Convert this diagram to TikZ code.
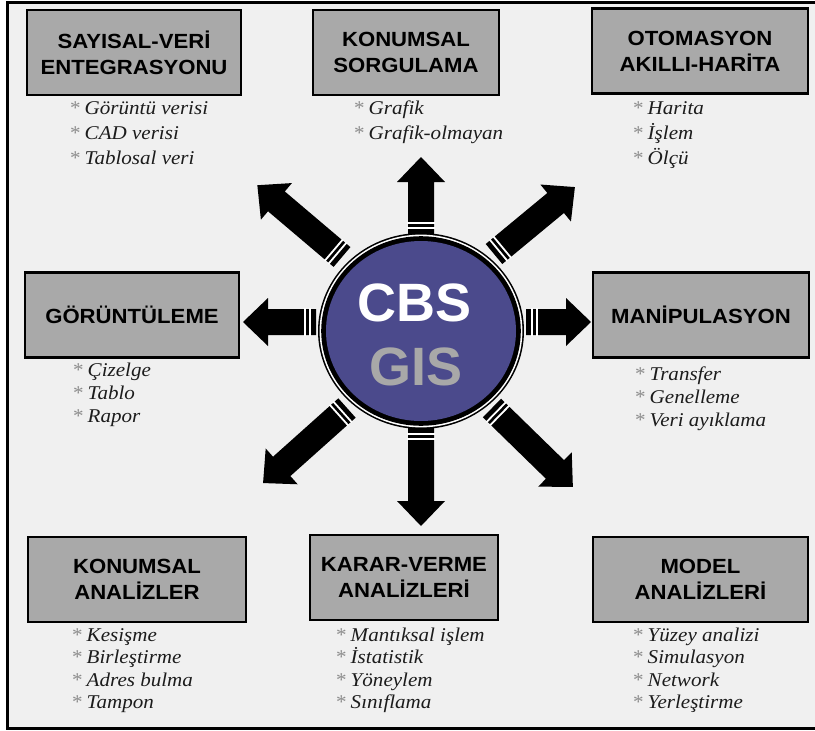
\documentclass[tikz,border=0pt]{standalone}
\usepackage{fontspec}
\setmainfont{Liberation Serif}
\newfontfamily\titlefont[FakeStretch=1.08]{Liberation Sans}
\newfontfamily\itemfont[FakeStretch=1.08]{Liberation Serif}
\newfontfamily\cbsfont{Liberation Sans}
\usetikzlibrary{shapes.geometric}
\definecolor{bgcol}{HTML}{F0F0F0}
\definecolor{boxfill}{HTML}{A9A9A9}
\definecolor{circfill}{HTML}{4B4A8C}
\definecolor{gistext}{HTML}{A8A8A8}
\definecolor{itemcol}{HTML}{1C1C1C}
\definecolor{astcol}{HTML}{8C8C8C}
\tikzset{
  box/.style={draw=black, line width=2.4pt, fill=boxfill, minimum height=85pt,
    align=center, inner sep=0pt, text=black,
    font=\titlefont\bfseries\fontsize{20.5}{26}\selectfont},
  item/.style={anchor=base west, inner sep=0pt, text=itemcol,
    font=\itemfont\itshape\fontsize{19.5}{23}\selectfont},
  bigarrow/.pic={
    \fill[black] (0,-13) -- ({#1-25},-13) -- ({#1-25},-24) -- (#1,0)
      -- ({#1-25},24) -- ({#1-25},13) -- (0,13) -- cycle;
    \fill[white] (5,-14) rectangle (6.8,14);
    \fill[white] (9.8,-14) rectangle (11.6,14);
  }
}
\newcommand\mybul{{\upshape\textcolor{astcol}{*}}\hspace{4pt}}
\begin{document}
\begin{tikzpicture}[x=1pt,y=-1pt]
\useasboundingbox (0,0) rectangle (815,731);
\fill[white] (0,0) rectangle (815,731);
\fill[bgcol] (7,2) rectangle (815,728);
\draw[line width=3pt] (815,2) -- (7.5,2) -- (7.5,728) -- (815,728);

% boxes
\node[box, minimum width=214pt] (b1) at (134,52.5) {SAYISAL-VERİ\\ENTEGRASYONU};
\node[box, minimum width=186pt] (b2) at (406,52.5) {KONUMSAL\\SORGULAMA};
\node[box, minimum width=216pt] (b3) at (700,51) {OTOMASYON\\AKILLI-HARİTA};
\node[box, minimum width=214pt] (b4) at (132,315) {GÖRÜNTÜLEME};
\node[box, minimum width=216pt] (b5) at (701,315) {MANİPULASYON};
\node[box, minimum width=218pt] (b6) at (137,579.5) {KONUMSAL\\ANALİZLER};
\node[box, minimum width=188pt] (b7) at (404,577.5) {KARAR-VERME\\ANALİZLERİ};
\node[box, minimum width=215pt] (b8) at (700.5,579.5) {MODEL\\ANALİZLERİ};

% item lists
\foreach \t [count=\i] in {Görüntü verisi, CAD verisi, Tablosal veri}
  \node[item] (l1-\i) at (70,{114+25*(\i-1)}) {\mybul\t};
\foreach \t [count=\i] in {Grafik, Grafik-olmayan}
  \node[item] (l2-\i) at (354,{114+25*(\i-1)}) {\mybul\t};
\foreach \t [count=\i] in {Harita, İşlem, Ölçü}
  \node[item] (l3-\i) at (633,{114+25*(\i-1)}) {\mybul\t};
\foreach \t [count=\i] in {Çizelge, Tablo, Rapor}
  \node[item] (l4-\i) at (73,{376+23*(\i-1)}) {\mybul\t};
\foreach \t [count=\i] in {Transfer, Genelleme, Veri ayıklama}
  \node[item] (l5-\i) at (635,{380+23*(\i-1)}) {\mybul\t};
\foreach \t [count=\i] in {Kesişme, Birleştirme, Adres bulma, Tampon}
  \node[item] (l6-\i) at (72,{641+22.5*(\i-1)}) {\mybul\t};
\foreach \t [count=\i] in {Mantıksal işlem, İstatistik, Yöneylem, Sınıflama}
  \node[item] (l7-\i) at (336,{641+22.5*(\i-1)}) {\mybul\t};
\foreach \t [count=\i] in {Yüzey analizi, Simulasyon, Network, Yerleştirme}
  \node[item] (l8-\i) at (633,{641+22.5*(\i-1)}) {\mybul\t};

% arrows
\pic[rotate=90] at (421,234) {bigarrow=77};
\pic[rotate=-90] at (421,428) {bigarrow=98};
\pic[rotate=180] at (316,322) {bigarrow=73};
\pic[rotate=0] at (526,322) {bigarrow=65};
\pic[rotate=139.7] at (342,257) {bigarrow=111};
\pic[rotate=39.6] at (494,254) {bigarrow=105};
\pic[rotate=221.8] at (347,408) {bigarrow=112.6};
\pic[rotate=-44.3] at (492,408) {bigarrow=113};

% centre
\node[ellipse, minimum width=206pt, minimum height=196pt, fill=black, inner sep=0pt] (cbs) at (421,331) {};
\fill[white] (cbs.center) ellipse [x radius=101.4pt, y radius=96.4pt];
\fill[black] (cbs.center) ellipse [x radius=99.8pt, y radius=94.8pt];
\fill[circfill] (cbs.center) ellipse [x radius=95pt, y radius=90pt];
\node[inner sep=0pt, text=white, font=\cbsfont\bfseries\fontsize{54}{54}\selectfont] (cbst) at (415,303) {CBS};
\node[inner sep=0pt, text=gistext, font=\cbsfont\bfseries\fontsize{54}{54}\selectfont] (gist) at (416,367) {GIS};
\end{tikzpicture}
\end{document}
